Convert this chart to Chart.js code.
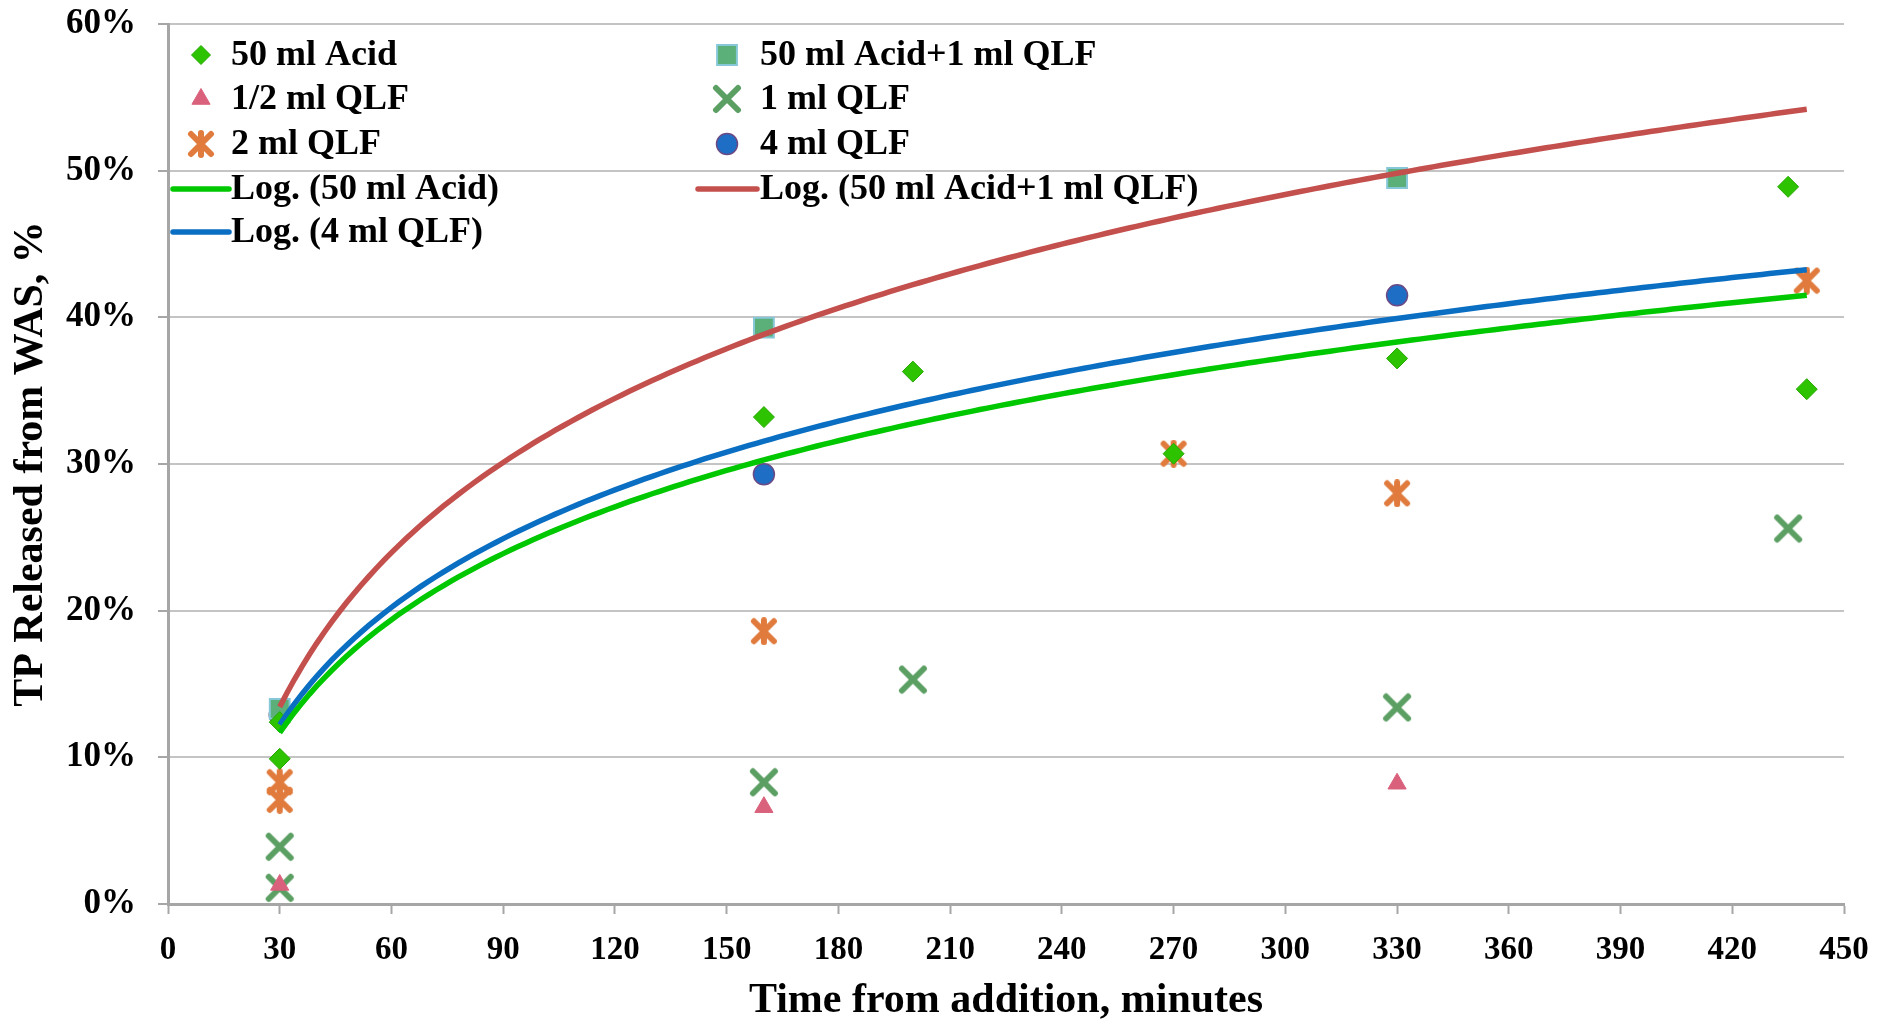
<!DOCTYPE html>
<html>
<head>
<meta charset="utf-8">
<script src="https://cdn.jsdelivr.net/npm/chart.js@4/dist/chart.umd.min.js"></script>
<style>
  html, body { margin: 0; padding: 0; background: #fff; }
  #wrap { width: 1878px; height: 1022px; }
</style>
</head>
<body>
<div id="wrap"><canvas id="tpChart" width="1878" height="1022"></canvas></div>
<script>
// Time (minutes) and TP released (%)
const acidX = [30, 30, 160, 200, 270, 330, 435, 440];
const acidY = [12.4, 9.9, 33.2, 36.3, 30.7, 37.2, 48.9, 35.1];
const acidQlfX = [30, 160, 330];
const acidQlfY = [13.3, 39.3, 49.5];
const halfQlfX = [30, 160, 330];
const halfQlfY = [1.3, 6.6, 8.2];
const oneQlfX = [30, 30, 160, 200, 330, 435];
const oneQlfY = [3.9, 1.1, 8.3, 15.3, 13.4, 25.6];
const twoQlfX = [30, 30, 160, 270, 330, 440];
const twoQlfY = [8.3, 7.1, 18.6, 30.7, 28.0, 42.5];
const fourQlfX = [30, 160, 330];
const fourQlfY = [12.9, 29.3, 41.5];

const xTicks = [0, 30, 60, 90, 120, 150, 180, 210, 240, 270, 300, 330, 360, 390, 420, 450];
const yTicks = [0, 10, 20, 30, 40, 50, 60];

const FONT = "'Liberation Serif', 'Times New Roman', serif";

const toPoints = (xs, ys) => xs.map((x, i) => ({ x: x, y: ys[i] }));

// Excel style logarithmic trendline: y = a*ln(x) + b, least squares
function logFit(xs, ys) {
    const lx = xs.map(Math.log);
    const n = xs.length;
    const mx = lx.reduce((s, v) => s + v, 0) / n;
    const my = ys.reduce((s, v) => s + v, 0) / n;
    let sxy = 0, sxx = 0;
    lx.forEach((v, i) => {
        sxy += (v - mx) * (ys[i] - my);
        sxx += (v - mx) * (v - mx);
    });
    const a = sxy / sxx;
    return { a: a, b: my - a * mx };
}

const allX = acidX.concat(acidQlfX, halfQlfX, oneQlfX, twoQlfX, fourQlfX);
const trendFrom = Math.min(...allX);
const trendTo = Math.max(...allX);

function trendPoints(xs, ys) {
    const fit = logFit(xs, ys);
    const pts = [];
    for (let x = trendFrom; x <= trendTo; x += 2) {
        pts.push({ x: x, y: fit.a * Math.log(x) + fit.b });
    }
    return pts;
}

function makeMarker(size, color, width, withBar) {
    const c = document.createElement('canvas');
    c.width = size;
    c.height = size;
    const g = c.getContext('2d');
    g.strokeStyle = color;
    g.lineWidth = width;
    g.lineCap = 'round';
    const m = width / 2 + 1;
    g.beginPath();
    g.moveTo(m, m); g.lineTo(size - m, size - m);
    g.moveTo(size - m, m); g.lineTo(m, size - m);
    if (withBar) {
        g.moveTo(size / 2, m - 1); g.lineTo(size / 2, size - m + 1);
    }
    g.stroke();
    return c;
}

const crossMark = makeMarker(30, '#5B9F63', 6, false);
const starMark = makeMarker(28, '#E07B3D', 6, true);

function scatterSet(label, xs, ys, style) {
    return Object.assign({
        type: 'scatter',
        label: label,
        data: toPoints(xs, ys),
        order: 2,
        pointHoverRadius: 0
    }, style);
}

function trendSet(label, xs, ys, color) {
    return {
        type: 'line',
        label: label,
        data: trendPoints(xs, ys),
        borderColor: color,
        backgroundColor: color,
        borderWidth: 5.5,
        pointRadius: 0,
        tension: 0,
        fill: false,
        order: 1
    };
}

const datasets = [
    scatterSet('50 ml Acid', acidX, acidY, {
        pointStyle: 'rectRot', pointRadius: 10.5, pointBackgroundColor: '#2DC300',
        pointBorderColor: '#25A800', pointBorderWidth: 1
    }),
    scatterSet('50 ml Acid+1 ml QLF', acidQlfX, acidQlfY, {
        pointStyle: 'rect', pointRadius: 14, pointBackgroundColor: '#5BAF78',
        pointBorderColor: '#86C7D8', pointBorderWidth: 2
    }),
    scatterSet('1/2 ml QLF', halfQlfX, halfQlfY, {
        pointStyle: 'triangle', pointRadius: 10.5, pointBackgroundColor: '#D9617C',
        pointBorderColor: '#D9617C', pointBorderWidth: 1
    }),
    scatterSet('1 ml QLF', oneQlfX, oneQlfY, {
        pointStyle: crossMark, pointRadius: 14, pointBackgroundColor: '#5B9F63',
        pointBorderColor: '#5B9F63'
    }),
    scatterSet('2 ml QLF', twoQlfX, twoQlfY, {
        pointStyle: starMark, pointRadius: 13, pointBackgroundColor: '#E07B3D',
        pointBorderColor: '#E07B3D'
    }),
    scatterSet('4 ml QLF', fourQlfX, fourQlfY, {
        pointStyle: 'circle', pointRadius: 10.5, pointBackgroundColor: '#1E6EC6',
        pointBorderColor: '#6A4A86', pointBorderWidth: 1.5
    }),
    trendSet('Log. (50 ml Acid)', acidX, acidY, '#00C800'),
    trendSet('Log. (50 ml Acid+1 ml QLF)', acidQlfX, acidQlfY, '#C4504E'),
    trendSet('Log. (4 ml QLF)', fourQlfX, fourQlfY, '#0A6FC2')
];

// legend slot for each dataset: [column, row]
const legendSlots = [[0, 0], [1, 0], [0, 1], [1, 1], [0, 2], [1, 2], [0, 3], [1, 3], [0, 4]];
const legendCols = [{ mark: 201, line: [173, 229], text: 231 }, { mark: 727, line: [698, 757], text: 760 }];
const legendRows = [55, 99, 144, 189, 232];

const legendPlugin = {
    id: 'sheetLegend',
    afterDraw(chart) {
        const ctx = chart.ctx;
        chart.data.datasets.forEach((ds, i) => {
            const [col, row] = legendSlots[i];
            const c = legendCols[col];
            const y = legendRows[row];
            ctx.save();
            if (ds.type === 'line') {
                ctx.strokeStyle = ds.borderColor;
                ctx.lineWidth = 5.5;
                ctx.lineCap = 'round';
                ctx.beginPath();
                ctx.moveTo(c.line[0], y);
                ctx.lineTo(c.line[1], y);
                ctx.stroke();
            } else {
                ctx.fillStyle = ds.pointBackgroundColor;
                ctx.strokeStyle = ds.pointBorderColor;
                ctx.lineWidth = ds.pointBorderWidth || 0;
                const r = ds.pointStyle === 'rectRot' ? 9.5 : ds.pointRadius;
                Chart.helpers.drawPoint(ctx, {
                    pointStyle: ds.pointStyle, rotation: 0, radius: r,
                    borderWidth: ds.pointBorderWidth || 0
                }, c.mark, y);
            }
            ctx.fillStyle = '#000';
            ctx.font = 'bold 36px ' + FONT;
            ctx.textBaseline = 'middle';
            ctx.textAlign = 'left';
            ctx.fillText(ds.label, c.text, y + 1);
            ctx.restore();
        });
    }
};

new Chart(document.getElementById('tpChart'), {
    type: 'scatter',
    data: { datasets: datasets },
    options: {
        responsive: false,
        animation: false,
        events: [],
        layout: { padding: { top: 24, right: 34, left: 0, bottom: 0 } },
        plugins: {
            legend: { display: false },
            tooltip: { enabled: false }
        },
        scales: {
            x: {
                type: 'linear',
                min: 0,
                max: 450,
                afterBuildTicks: s => { s.ticks = xTicks.map(v => ({ value: v })); },
                afterFit: s => {
                    s.height = 118;
                    s.paddingLeft = 0;
                    s.paddingRight = 0;
                },
                ticks: {
                    color: '#000',
                    font: { family: FONT, size: 33, weight: 'bold' },
                    padding: 17,
                    maxRotation: 0
                },
                grid: {
                    drawOnChartArea: false,
                    drawTicks: true,
                    tickLength: 10,
                    tickColor: '#A6A6A6',
                    tickWidth: 2
                },
                border: { color: '#A6A6A6', width: 3 },
                title: {
                    display: true,
                    text: 'Time from addition, minutes',
                    color: '#000',
                    font: { family: FONT, size: 42, weight: 'bold', lineHeight: 1 },
                    padding: 0
                }
            },
            y: {
                min: 0,
                max: 60,
                afterBuildTicks: s => { s.ticks = yTicks.map(v => ({ value: v })); },
                afterFit: s => {
                    s.width = 168;
                    s.paddingTop = 0;
                    s.paddingBottom = 0;
                },
                ticks: {
                    color: '#000',
                    font: { family: FONT, size: 35, weight: 'bold' },
                    padding: 22,
                    callback: v => v + '%'
                },
                grid: {
                    color: '#C4C4C4',
                    lineWidth: 2,
                    tickLength: 10,
                    tickColor: '#A6A6A6',
                    tickWidth: 2
                },
                border: { color: '#A6A6A6', width: 3 },
                title: {
                    display: true,
                    text: 'TP Released from WAS, %',
                    color: '#000',
                    font: { family: FONT, size: 42, weight: 'bold', lineHeight: 1 },
                    padding: { top: 10, bottom: 0 }
                }
            }
        }
    },
    plugins: [legendPlugin]
});
</script>
</body>
</html>
